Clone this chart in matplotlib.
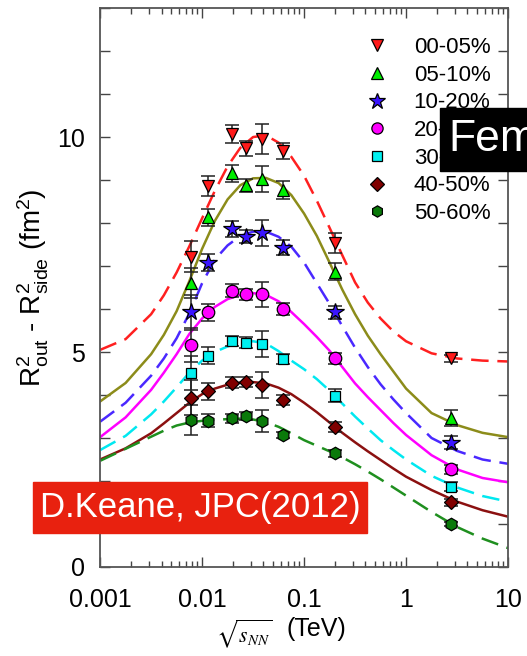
import numpy as np
import matplotlib
matplotlib.use('Agg')
import matplotlib.pyplot as plt
from matplotlib.lines import Line2D
from matplotlib.patches import Rectangle
from matplotlib.ticker import MultipleLocator, FixedLocator, NullFormatter

plt.rcParams['font.family'] = ['Liberation Sans', 'DejaVu Sans']
plt.rcParams['mathtext.fontset'] = 'custom'
plt.rcParams['mathtext.rm'] = 'Liberation Sans'
plt.rcParams['mathtext.it'] = 'Liberation Sans:italic'

# collision energies (TeV)
energies = [0.0077, 0.0115, 0.0196, 0.027, 0.039, 0.0624, 0.200, 2.76]
labels = ['00-05%', '05-10%', '10-20%', '20-30%', '30-40%', '40-50%', '50-60%']

r_0005 = [7.22, 8.86, 10.07, 9.74, 9.95, 9.68, 7.53, 4.85]
r_0510 = [6.60, 8.13, 9.16, 8.88, 9.02, 8.77, 6.87, 3.46]
r_1020 = [5.92, 7.08, 7.86, 7.68, 7.76, 7.43, 5.92, 2.89]
r_2030 = [5.16, 5.92, 6.43, 6.34, 6.34, 6.00, 4.85, 2.27]
r_3040 = [4.51, 4.91, 5.26, 5.22, 5.19, 4.84, 3.98, 1.87]
r_4050 = [3.94, 4.09, 4.29, 4.31, 4.23, 3.88, 3.26, 1.50]
r_5060 = [3.42, 3.40, 3.46, 3.51, 3.40, 3.07, 2.64, 1.00]

e_0005 = [0.37, 0.23, 0.21, 0.17, 0.35, 0.19, 0.23, 0.08]
e_0510 = [0.35, 0.20, 0.20, 0.15, 0.30, 0.20, 0.20, 0.18]
e_1020 = [0.40, 0.20, 0.18, 0.15, 0.30, 0.18, 0.15, 0.15]
e_2030 = [0.40, 0.20, 0.15, 0.12, 0.30, 0.15, 0.12, 0.10]
e_3040 = [0.40, 0.20, 0.12, 0.12, 0.30, 0.12, 0.15, 0.10]
e_4050 = [0.40, 0.20, 0.12, 0.12, 0.30, 0.12, 0.12, 0.08]
e_5060 = [0.35, 0.15, 0.10, 0.10, 0.25, 0.08, 0.08, 0.05]

# fitted curves at these log10(TeV) positions
curve_logx = [-3, -2.75, -2.5, -2.375, -2.25, -2.125, -2.0, -1.875, -1.75, -1.625, -1.5,
              -1.375, -1.25, -1.125, -1.0, -0.875, -0.75, -0.625, -0.5, -0.375, -0.25,
              -0.125, 0, 0.25, 0.5, 0.75, 1.0]
c_0005 = [5.05, 5.30, 5.88, 6.32, 6.85, 7.46, 8.11, 8.75, 9.32, 9.75, 10.0, 10.04, 9.87, 9.54,
          9.10, 8.52, 7.89, 7.25, 6.62, 6.15, 5.78, 5.48, 5.25, 4.97, 4.85, 4.80, 4.78]
c_0510 = [3.85, 4.28, 4.95, 5.40, 5.95, 6.65, 7.40, 8.05, 8.55, 8.88, 9.04, 9.05, 8.93, 8.65,
          8.22, 7.70, 7.08, 6.45, 5.88, 5.38, 4.95, 4.55, 4.15, 3.58, 3.30, 3.12, 3.02]
c_1020 = [3.38, 3.82, 4.45, 4.85, 5.32, 5.90, 6.60, 7.15, 7.48, 7.70, 7.80, 7.80, 7.68, 7.45,
          7.08, 6.60, 6.12, 5.60, 5.10, 4.65, 4.25, 3.90, 3.58, 3.00, 2.70, 2.50, 2.40]
c_2030 = [3.02, 3.48, 4.12, 4.52, 4.95, 5.42, 5.78, 6.05, 6.23, 6.33, 6.37, 6.33, 6.18, 5.93,
          5.65, 5.35, 5.03, 4.65, 4.27, 3.95, 3.65, 3.35, 3.07, 2.60, 2.27, 2.07, 1.97]
c_3040 = [2.72, 3.05, 3.55, 3.85, 4.18, 4.52, 4.80, 5.00, 5.13, 5.22, 5.25, 5.20, 5.02, 4.80,
          4.60, 4.37, 4.10, 3.80, 3.50, 3.22, 2.95, 2.72, 2.50, 2.12, 1.85, 1.65, 1.52]
c_4050 = [2.50, 2.76, 3.11, 3.34, 3.58, 3.82, 4.02, 4.15, 4.24, 4.29, 4.30, 4.27, 4.17, 4.02,
          3.82, 3.60, 3.36, 3.12, 2.90, 2.69, 2.49, 2.29, 2.10, 1.79, 1.52, 1.32, 1.17]
c_5060 = [2.47, 2.75, 3.03, 3.17, 3.29, 3.36, 3.40, 3.42, 3.44, 3.45, 3.43, 3.37, 3.26, 3.11,
          2.95, 2.82, 2.69, 2.55, 2.39, 2.22, 2.04, 1.85, 1.66, 1.28, 0.93, 0.66, 0.44]

points = [r_0005, r_0510, r_1020, r_2030, r_3040, r_4050, r_5060]
errors = [e_0005, e_0510, e_1020, e_2030, e_3040, e_4050, e_5060]
curves = [c_0005, c_0510, c_1020, c_2030, c_3040, c_4050, c_5060]
curve_x = 10.0 ** np.array(curve_logx)

markers = ['v', '^', '*', 'o', 's', 'D', 'h']
msizes = [9, 9, 13, 9, 7.5, 7.5, 9]
mcolors = ['#ff1a1a', '#00ee00', '#3a14ff', '#ff00ff', '#00f0f0', '#800000', '#0a7a0a']
lcolors = ['#ff2020', '#8c8c1a', '#4a28ff', '#ff00ff', '#00e8f0', '#8b1010', '#1f8f1f']
dashed = [True, False, True, False, True, False, True]

fig = plt.figure(figsize=(5.27, 6.56), dpi=100)
ax = fig.add_axes([0.19, 0.1357, 0.774, 0.852])

for i in range(len(labels)):
    ls = (0, (7, 3.5)) if dashed[i] else '-'
    ax.plot(curve_x, curves[i], color=lcolors[i], lw=1.8, linestyle=ls, zorder=2)
    ax.errorbar(energies, points[i], yerr=errors[i], fmt='none', ecolor='#222222',
                elinewidth=1.1, capsize=5, capthick=1.1, zorder=3)
    ax.plot(energies, points[i], linestyle='none', marker=markers[i], ms=msizes[i],
            mfc=mcolors[i], mec='black', mew=0.9, zorder=4)

ax.set_xscale('log')
ax.set_xlim(0.001, 10)
ax.set_ylim(0, 13)
ax.yaxis.set_major_locator(FixedLocator([0, 5, 10]))
ax.yaxis.set_minor_locator(MultipleLocator(1))
ax.xaxis.set_minor_formatter(NullFormatter())
ax.set_xticks([0.001, 0.01, 0.1, 1, 10])
ax.set_xticklabels(['0.001', '0.01', '0.1', '1', '10'])
ax.tick_params(which='both', direction='in', top=True, right=True, labelsize=18,
               color='#444444', width=1.0)
ax.tick_params(which='major', length=7)
ax.tick_params(axis='x', which='major', pad=15)
ax.tick_params(axis='y', which='major', pad=11)
ax.tick_params(axis='y', which='minor', length=7)
ax.tick_params(axis='x', which='minor', length=4)
for s in ax.spines.values():
    s.set_color('#555555')
    s.set_linewidth(1.3)

ax.set_ylabel(r'R$^{2}_{\mathrm{out}}$ - R$^{2}_{\mathrm{side}}$ (fm$^{2}$)', fontsize=20, labelpad=4)
fig.text(216 / 527, 1 - 634 / 656, r'$\sqrt{s_{NN}}$', fontsize=15.5, math_fontfamily='stix',
         ha='left', va='center')
fig.text(287 / 527, 1 - 629 / 656, '(TeV)', fontsize=18, ha='left', va='center')

handles = [Line2D([], [], linestyle='none', marker=markers[i], ms=msizes[i] * 0.9,
                  mfc=mcolors[i], mec='black', mew=0.9) for i in range(len(labels))]
ax.legend(handles, labels, loc='upper left', bbox_to_anchor=(0.608, 0.976), frameon=False,
          fontsize=16, handletextpad=1.05, labelspacing=0.3, borderpad=0.2, handlelength=1.2)

# overlays
fig.patches.append(Rectangle((33 / 527, 1 - 533 / 656), 334 / 527, 51 / 656,
                             transform=fig.transFigure, color='#e8210f', zorder=10))
fig.text(200 / 527, 1 - 508 / 656, 'D.Keane, JPC(2012)', color='white', fontsize=25,
         ha='center', va='center', zorder=11)
fig.patches.append(Rectangle((440 / 527, 1 - 171 / 656), 100 / 527, 63 / 656,
                             transform=fig.transFigure, color='black', zorder=10))
fig.text(448 / 527, 1 - 140 / 656, 'Femtoscopy', color='white', fontsize=32,
         ha='left', va='center', zorder=11)

fig.savefig('out.png', dpi=100)
